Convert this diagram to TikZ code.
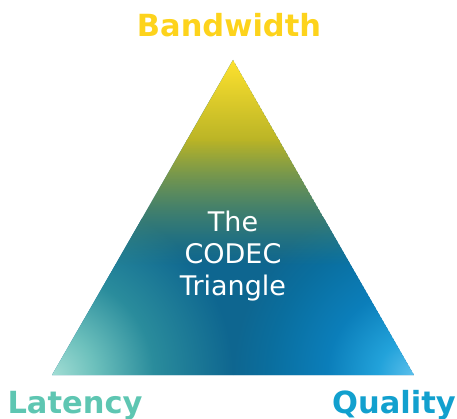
\documentclass[tikz,border=0pt]{standalone}
\usepackage{fontspec}
\setmainfont{DejaVu Sans}
\usetikzlibrary{fadings}
\definecolor{basec}{HTML}{0E6690}
\definecolor{lcA}{HTML}{A2DDD4}
\definecolor{lcB}{HTML}{6CC0BC}
\definecolor{lcC}{HTML}{2A8C9C}
\definecolor{rcA}{HTML}{5CC0EC}
\definecolor{rcB}{HTML}{22A2DA}
\definecolor{rcC}{HTML}{0B7EBA}
\definecolor{rcD}{HTML}{0A6E9E}
\definecolor{yA}{HTML}{FFE22E}
\definecolor{yB}{HTML}{EDD328}
\definecolor{yC}{HTML}{BAB426}
\definecolor{yD}{HTML}{5A9254}
\definecolor{bwcol}{HTML}{FDD31C}
\definecolor{latcol}{HTML}{5EC6B2}
\definecolor{qualcol}{HTML}{12A0CE}
\pgfdeclareradialshading{leftcorner}{\pgfpoint{0bp}{0bp}}{color(0bp)=(lcA); color(6bp)=(lcB); color(14bp)=(lcC); color(25bp)=(basec); color(50bp)=(basec)}
\pgfdeclareradialshading{rightcorner}{\pgfpoint{0bp}{0bp}}{color(0bp)=(rcA); color(5bp)=(rcB); color(12bp)=(rcC); color(20bp)=(rcD); color(25bp)=(basec); color(50bp)=(basec)}
\tikzfading[name=yfade, top color=transparent!0, middle color=transparent!65, bottom color=transparent!100]
\tikzset{
  corner label/.style={font=\fontsize{30.5}{36}\selectfont\bfseries, anchor=base, inner sep=0pt},
  center label/.style={font=\fontsize{27}{32}\selectfont, text=white, align=center, inner sep=0pt}
}
\begin{document}
\begin{tikzpicture}[x=1pt,y=-1pt]
\useasboundingbox (0,0) rectangle (457,419);
\coordinate (A) at (233,60);
\coordinate (L) at (52,375);
\coordinate (R) at (414,375);
\begin{scope}
  \clip (A) -- (L) -- (R) -- cycle;
  \fill[basec] (A) -- (L) -- (R) -- cycle;
  \shade[shading=leftcorner] (L) circle (181pt);
  \shade[shading=rightcorner] (R) circle (181pt);
  \shade[top color=yA, middle color=yB, bottom color=yC] (40,58) rectangle (430,140.6);
  \shade[top color=yC, bottom color=yD, path fading=yfade] (40,140) rectangle (430,265);
\end{scope}
\node[corner label, text=bwcol] (bw) at (229,37) {Bandwidth};
\node[corner label, text=latcol] (lat) at (75,413) {Latency};
\node[corner label, text=qualcol] (qual) at (394,413) {Quality};
\node[center label] (title) at (233,256) {The\\CODEC\\Triangle};
\end{tikzpicture}
\end{document}
